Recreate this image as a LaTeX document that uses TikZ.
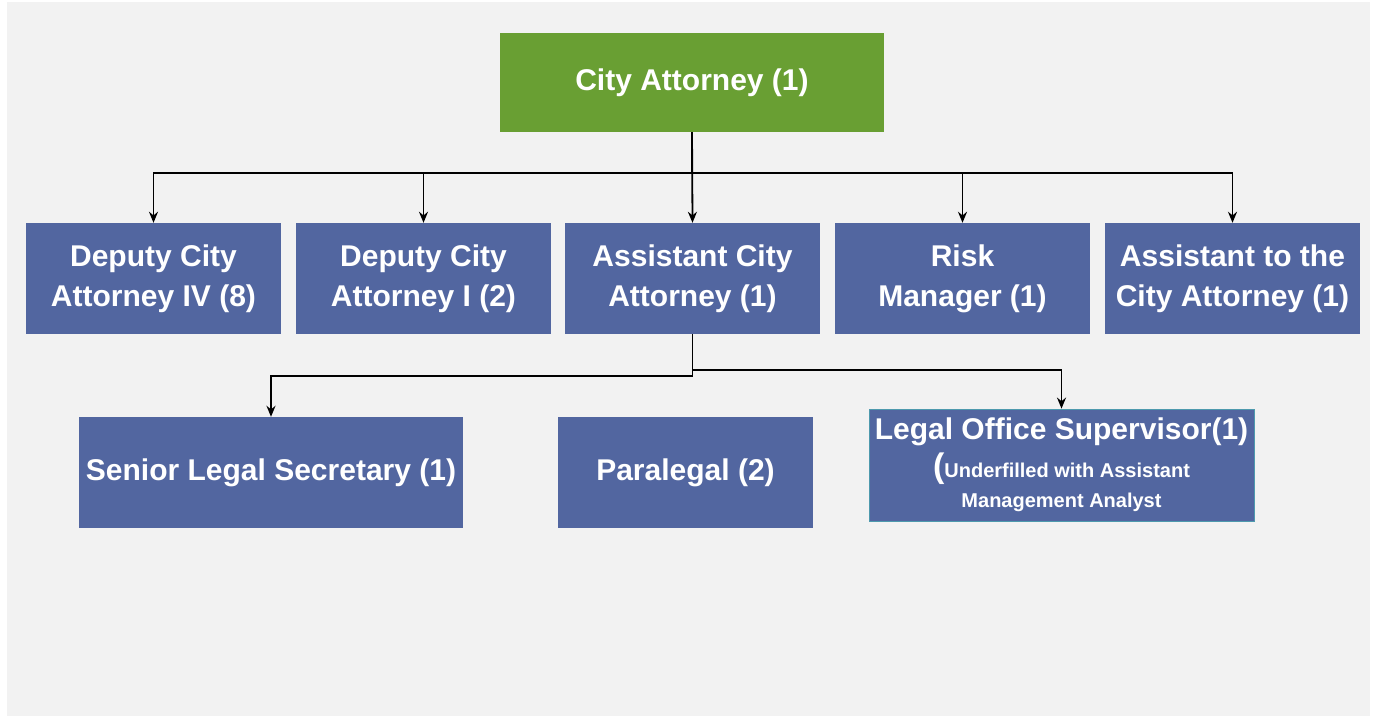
\documentclass[tikz,border=0pt]{standalone}
\usepackage{fontspec}
\setmainfont{Liberation Sans}
\usetikzlibrary{arrows.meta}

\definecolor{titlegreen}{HTML}{699F33}
\definecolor{boxblue}{HTML}{5266A0}
\definecolor{pagegray}{HTML}{F2F2F2}
\definecolor{edgeteal}{HTML}{4E9AAE}

\tikzset{
  post/.style={fill=boxblue, text=white, align=center, inner sep=0pt,
    font=\bfseries\fontsize{30}{40}\selectfont,
    minimum width=255pt, minimum height=111pt},
  link/.style={draw=black, line width=1.8pt, -{Stealth[length=11pt,width=9pt]}}
}

\begin{document}
\begin{tikzpicture}[x=1pt,y=-1pt]

\useasboundingbox (0,0) rectangle (1376,717);
\fill[pagegray] (7,2) rectangle (1370,716); % page

% Top post
\node[post, fill=titlegreen, minimum width=384pt, minimum height=99pt] (city) at (692,82.5) {City Attorney (1)};

% Second row
\node[post] (dep4) at (153.5,278.5) {Deputy City\\Attorney IV (8)};
\node[post] (dep1) at (423.5,278.5) {Deputy City\\Attorney I (2)};
\node[post] (asst) at (692.5,278.5) {Assistant City\\Attorney (1)};
\node[post] (risk) at (962.5,278.5) {Risk\\Manager (1)};
\node[post] (aide) at (1232.5,278.5) {Assistant to the\\City Attorney (1)};

% Third row
\node[post, minimum width=384pt] (secy) at (271,472.5) {Senior Legal Secretary (1)};
\node[post] (para) at (685.5,472.5) {Paralegal (2)};
\node[post, draw=edgeteal, line width=0.8pt, minimum width=385pt, minimum height=112pt] (sup) at (1061.5,465)
  {Legal Office Supervisor(1)\\[-2pt]
   {\fontsize{34}{34}\selectfont (}{\fontsize{20}{30}\selectfont Underfilled with Assistant}\\[-10pt]
   {\fontsize{20}{30}\selectfont Management Analyst}};

% Bus from the City Attorney
\coordinate (bus) at (692,173);
\draw[link] (city.south) -- (bus) -| (dep4.north);
\draw[link] (city.south) -- (bus) -| (dep1.north);
\draw[link] (city.south) -- (asst.north);
\draw[link] (city.south) -- (bus) -| (risk.north);
\draw[link] (city.south) -- (bus) -| (aide.north);

% Below the Assistant City Attorney
\draw[link] (asst.south) -- ++(0,42) -| (secy.north);
\draw[link] (asst.south) -- ++(0,36) -| (sup.north);

\end{tikzpicture}
\end{document}
